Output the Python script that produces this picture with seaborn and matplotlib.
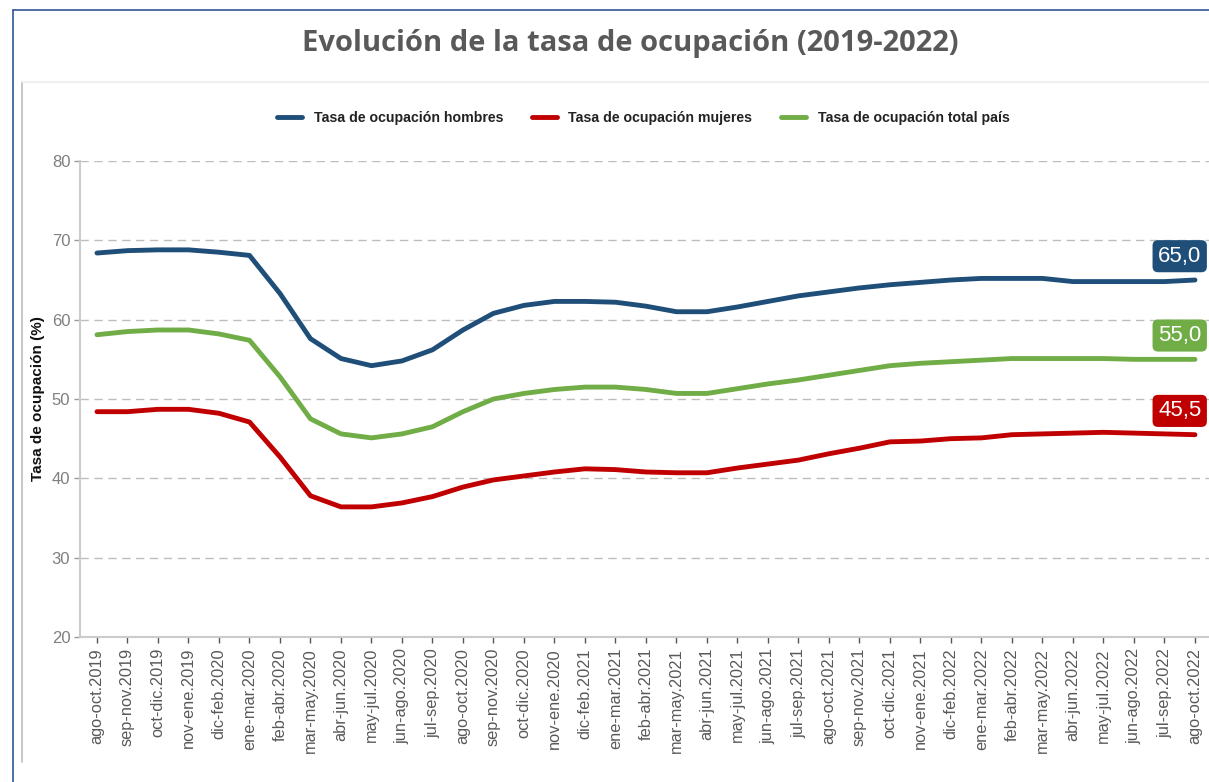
import numpy as np
import pandas as pd
import matplotlib
matplotlib.use("Agg")
import matplotlib.pyplot as plt
from matplotlib.lines import Line2D
import seaborn as sns

periodos = [
    "ago-oct.2019", "sep-nov.2019", "oct-dic.2019", "nov-ene.2019", "dic-feb.2020",
    "ene-mar.2020", "feb-abr.2020", "mar-may.2020", "abr-jun.2020", "may-jul.2020",
    "jun-ago.2020", "jul-sep.2020", "ago-oct.2020", "sep-nov.2020", "oct-dic.2020",
    "nov-ene.2020", "dic-feb.2021", "ene-mar.2021", "feb-abr.2021", "mar-may.2021",
    "abr-jun.2021", "may-jul.2021", "jun-ago.2021", "jul-sep.2021", "ago-oct.2021",
    "sep-nov.2021", "oct-dic.2021", "nov-ene.2021", "dic-feb.2022", "ene-mar.2022",
    "feb-abr.2022", "mar-may.2022", "abr-jun.2022", "may-jul.2022", "jun-ago.2022",
    "jul-sep.2022", "ago-oct.2022",
]
hombres = [68.4, 68.7, 68.8, 68.8, 68.5, 68.1, 63.3, 57.6, 55.1, 54.2, 54.8, 56.2, 58.7,
           60.8, 61.8, 62.3, 62.3, 62.2, 61.7, 61.0, 61.0, 61.6, 62.3, 63.0, 63.5, 64.0,
           64.4, 64.7, 65.0, 65.2, 65.2, 65.2, 64.8, 64.8, 64.8, 64.8, 65.0]
mujeres = [48.4, 48.4, 48.7, 48.7, 48.2, 47.1, 42.7, 37.8, 36.4, 36.4, 36.9, 37.7, 38.9,
           39.8, 40.3, 40.8, 41.2, 41.1, 40.8, 40.7, 40.7, 41.3, 41.8, 42.3, 43.1, 43.8,
           44.6, 44.7, 45.0, 45.1, 45.5, 45.6, 45.7, 45.8, 45.7, 45.6, 45.5]
total = [58.1, 58.5, 58.7, 58.7, 58.2, 57.4, 52.8, 47.5, 45.6, 45.1, 45.6, 46.5, 48.4,
         50.0, 50.7, 51.2, 51.5, 51.5, 51.2, 50.7, 50.7, 51.3, 51.9, 52.4, 53.0, 53.6,
         54.2, 54.5, 54.7, 54.9, 55.1, 55.1, 55.1, 55.1, 55.0, 55.0, 55.0]

series = ["Tasa de ocupación hombres", "Tasa de ocupación mujeres", "Tasa de ocupación total país"]
colores = ["#1F4E79", "#C00000", "#70AD47"]
y_ticks = [20, 30, 40, 50, 60, 70, 80]

pos = np.arange(len(periodos))
df = pd.concat([
    pd.DataFrame({"pos": pos, "tasa": vals, "serie": name})
    for name, vals in zip(series, [hombres, mujeres, total])
])

sns.set_theme(style="white")
plt.rcParams["font.family"] = ["Liberation Sans", "DejaVu Sans"]

fig = plt.figure(figsize=(12.09, 7.82), dpi=100)
ax = fig.add_axes([80 / 1209, 1 - 637 / 782, 1 - 80 / 1209, (637 - 161) / 782])

sns.lineplot(data=df, x="pos", y="tasa", hue="serie", hue_order=series,
             palette=colores, linewidth=3.5, sort=False, ax=ax)

ax.set_xlim(-0.557, 36.46)
ax.set_ylim(20, 80)
ax.set_yticks(y_ticks)
ax.set_xticks(pos)
ax.set_xticklabels(periodos, rotation=90, fontsize=11.8, color="#595959")
ax.tick_params(axis="y", labelsize=12, labelcolor="#7f7f7f", length=4, width=1,
               color="#9a9a9a", left=True, pad=3)
ax.tick_params(axis="x", length=4, width=1, color="#555555", bottom=True, pad=4)

for y in y_ticks[1:]:
    ax.axhline(y, color="#bdbdbd", lw=1.0, linestyle=(0, (6, 4)), zorder=0)

for side in ["top", "right"]:
    ax.spines[side].set_visible(False)
for side in ["left", "bottom"]:
    ax.spines[side].set_color("#cccccc")
    ax.spines[side].set_linewidth(1.5)

ax.set_xlabel("")
ax.set_ylabel("Tasa de ocupación (%)", fontsize=11, fontweight="bold", color="#111111",
              labelpad=5)

# end labels
for vals, color in zip([hombres, mujeres, total], colores):
    last = vals[-1]
    ax.text(35.5, last + 3.0, f"{last:.1f}".replace(".", ","), color="white",
            fontsize=16, ha="center", va="center", clip_on=False,
            bbox=dict(boxstyle="round,pad=0.25,rounding_size=0.25", fc=color, ec="none"))

sns.move_legend(ax, "center", bbox_to_anchor=(0.532, 0.849), bbox_transform=fig.transFigure,
                ncol=3, frameon=False, title=None, handlelength=1.8, columnspacing=2.0,
                prop={"weight": "bold", "size": 10.2})
leg = ax.get_legend()
for h in leg.legend_handles:
    h.set_linewidth(3.5)
for t in leg.get_texts():
    t.set_color("#222222")

fig.text(0.521, 0.944, "Evolución de la tasa de ocupación (2019-2022)",
         fontfamily="Open Sans", fontweight="bold", fontsize=21, color="#595959",
         ha="center", va="center")

# frame lines
W, H = 1209, 782
fig.add_artist(Line2D([12.5 / W, 12.5 / W], [0, 1 - 10 / H], color="#2F5597", lw=1.2))
fig.add_artist(Line2D([12.5 / W, 1], [1 - 10 / H, 1 - 10 / H], color="#2F5597", lw=1.2))
fig.add_artist(Line2D([22 / W, 22 / W], [1 - 762 / H, 1 - 82 / H], color="#bdbdbd", lw=1.2))
fig.add_artist(Line2D([22 / W, 1], [1 - 82 / H, 1 - 82 / H], color="#eeeeee", lw=1.2))

fig.savefig("out.png", dpi=100)
